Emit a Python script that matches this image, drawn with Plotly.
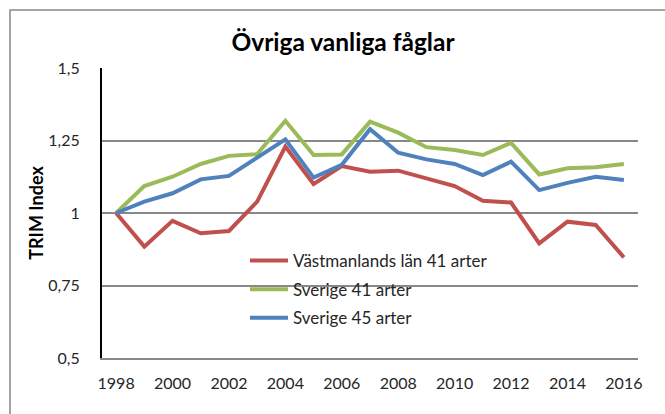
import plotly.graph_objects as go

years = list(range(1998, 2017))
vastmanland = [1.0, 0.884, 0.973, 0.930, 0.938, 1.039, 1.229, 1.100, 1.162, 1.142,
               1.146, 1.120, 1.093, 1.042, 1.036, 0.895, 0.970, 0.959, 0.847]
sverige41 = [1.0, 1.093, 1.125, 1.169, 1.197, 1.203, 1.318, 1.200, 1.202, 1.315,
             1.277, 1.227, 1.217, 1.200, 1.242, 1.133, 1.154, 1.158, 1.169]
sverige45 = [1.0, 1.039, 1.068, 1.116, 1.128, 1.189, 1.254, 1.122, 1.166, 1.289,
             1.208, 1.185, 1.169, 1.131, 1.177, 1.079, 1.104, 1.125, 1.114]
series_names = ["Västmanlands län 41 arter", "Sverige 41 arter", "Sverige 45 arter"]
colors = ["#C0504D", "#9BBB59", "#4F81BD"]
y_ticks = [0.5, 0.75, 1.0, 1.25, 1.5]
y_tick_text = ["0,5", "0,75", "1", "1,25", "1,5"]

FONT = "Lato, 'Open Sans', sans-serif"

fig = go.Figure()
for i, (name, vals, c) in enumerate(zip(series_names, [vastmanland, sverige41, sverige45], colors)):
    fig.add_trace(go.Scatter(x=years, y=vals, mode="lines", name=name, legendgroup=f"g{i}",
                             line=dict(color=c, width=4)))

# white legend backdrop covering gridlines
fig.add_shape(type="rect", xref="paper", yref="paper",
              x0=(210 - 102) / 536, x1=(527 - 102) / 536,
              y0=(358 - 335) / 290, y1=(358 - 245) / 290,
              fillcolor="white", line=dict(width=0), layer="between")
# outer chart border
fig.add_shape(type="rect", xref="paper", yref="paper",
              x0=(10 - 102) / 536, x1=(720 - 102) / 536,
              y0=(358 - 460) / 290, y1=(358 - 10) / 290,
              line=dict(color="#878787", width=1.5), fillcolor="rgba(0,0,0,0)", layer="above")

fig.update_layout(
    width=665, height=414,
    margin=dict(l=102, r=27, t=68, b=56),
    paper_bgcolor="white", plot_bgcolor="white",
    font=dict(family=FONT, color="#262626"),
    title=dict(text="<b>Övriga vanliga fåglar</b>", x=343 / 665, xanchor="center",
               y=1 - 42 / 414, yanchor="middle", font=dict(size=24.5, color="black")),
    showlegend=True,
    legend=dict(x=(245 - 102) / 536, y=(358 - 243) / 290, xanchor="left", yanchor="top",
                bgcolor="rgba(0,0,0,0)", font=dict(size=17, color="#262626"),
                itemwidth=38, tracegroupgap=3.5),
    xaxis=dict(range=[1997.5, 2016.5], tickmode="array", tickvals=years[::2],
               ticktext=[str(y) for y in years[::2]], showgrid=False, zeroline=False,
               showline=True, linecolor="#888888", linewidth=2, ticks="",
               tickfont=dict(size=16, color="#262626"), ticklabelstandoff=10),
    yaxis=dict(range=[0.5, 1.5], tickmode="array", tickvals=y_ticks, ticktext=y_tick_text,
               showgrid=True, gridcolor="#888888", gridwidth=1.5, zeroline=False,
               showline=True, linecolor="black", linewidth=2, ticks="",
               tickfont=dict(size=16, color="#262626"), ticklabelstandoff=17,
               title=dict(text="<b>TRIM Index</b>", font=dict(size=18, color="black"), standoff=0)),
)

fig.write_html("out.html", config={"displayModeBar": False})
with open("out.html", encoding="utf-8") as f:
    html = f.read()
html = html.replace("<head>", "<head><style>html,body{margin:0;padding:0;overflow:hidden}</style>", 1)
with open("out.html", "w", encoding="utf-8") as f:
    f.write(html)
